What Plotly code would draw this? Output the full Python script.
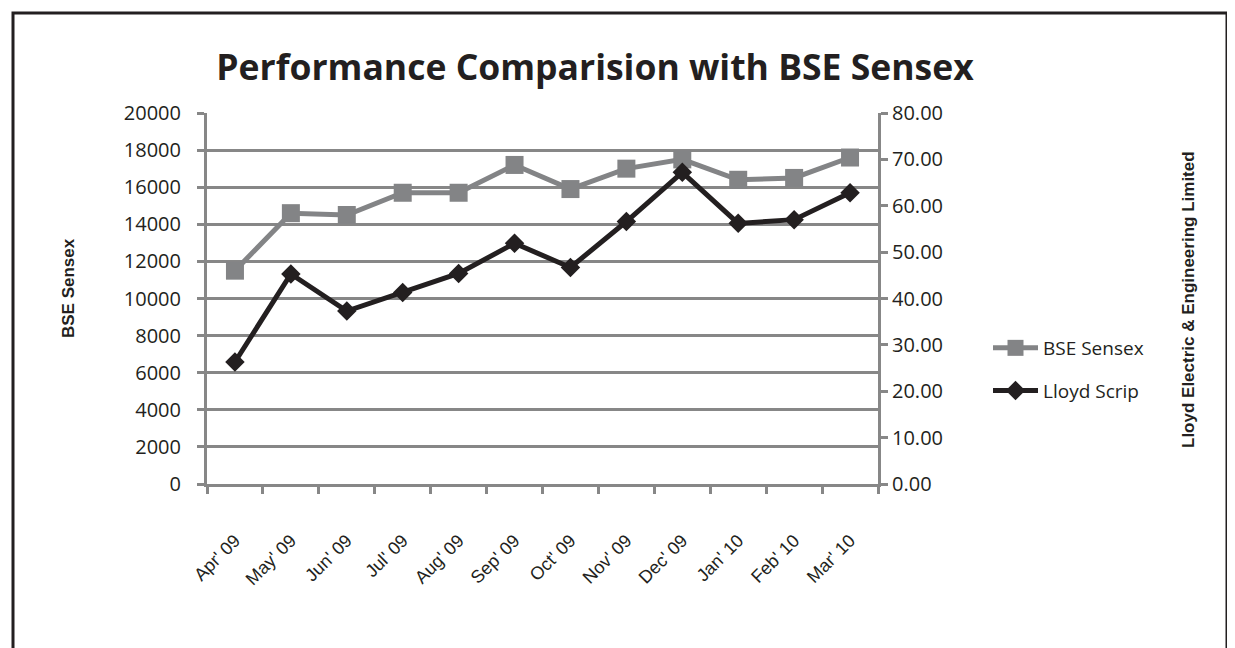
import plotly.graph_objects as go

months = ["Apr' 09", "May' 09", "Jun' 09", "Jul' 09", "Aug' 09", "Sep' 09",
          "Oct' 09", "Nov' 09", "Dec' 09", "Jan' 10", "Feb' 10", "Mar' 10"]
sensex = [11500, 14600, 14500, 15700, 15700, 17200, 15900, 17000, 17500, 16400, 16500, 17600]
lloyd = [26.3, 45.3, 37.3, 41.3, 45.4, 51.9, 46.7, 56.6, 67.2, 56.2, 57.0, 62.8]

# page body has an 8px margin; lay out in screen pixels and shift
O = 8
W, H = 1235 - O, 648 - O
SL, SR, ST, SB = 207, 878, 113, 484   # plot area in screen pixels
L, R, T, B = SL - O, SR - O, ST - O, SB - O
GRID = "#878787"
DARK = "#231f20"

fig = go.Figure()
fig.add_trace(go.Scatter(
    x=months, y=sensex, name="BSE Sensex", mode="lines+markers",
    line=dict(color="#838486", width=5),
    marker=dict(symbol="square", size=18, color="#838486"),
    legendgroup="a", yaxis="y"))
fig.add_trace(go.Scatter(
    x=months, y=lloyd, name="Lloyd Scrip", mode="lines+markers",
    line=dict(color=DARK, width=5),
    marker=dict(symbol="diamond", size=15, color=DARK),
    legendgroup="b", yaxis="y2"))

def px(x):
    return (x - SL) / (SR - SL)

def py(y):
    return (SB - y) / (SB - ST)

fig.update_layout(
    width=W, height=H,
    margin=dict(l=L, r=W - R, t=T, b=H - B, pad=0, autoexpand=False),
    paper_bgcolor="white", plot_bgcolor="white",
    showlegend=True,
    legend=dict(x=px(988), y=py(329), xanchor="left", yanchor="top",
                font=dict(family="Open Sans", size=19, color=DARK),
                tracegroupgap=15, bgcolor="rgba(0,0,0,0)", itemwidth=45),
    title=dict(text="<b>Performance Comparision with BSE Sensex</b>",
               x=(595 - O) / W, xanchor="center", y=1 - (68 - O) / H, yanchor="middle",
               xref="container", yref="container",
               font=dict(family="Open Sans", size=35.5, color=DARK)),
    xaxis=dict(type="category", range=[-0.5, 11.5], tickson="boundaries",
               ticks="outside", ticklen=7, tickwidth=3, tickcolor=GRID,
               showline=True, linecolor=GRID, linewidth=3,
               showgrid=False, tickangle=-45, ticklabelstandoff=36,
               tickfont=dict(family="Arial", size=18, color=DARK)),
    yaxis=dict(range=[0, 20000], dtick=2000, tickformat="d",
               ticks="outside", ticklen=7, tickwidth=3, tickcolor=GRID,
               showline=True, linecolor=GRID, linewidth=3,
               showgrid=True, gridcolor=GRID, gridwidth=3, zeroline=False,
               ticklabelstandoff=12,
               tickfont=dict(family="Open Sans", size=20, color=DARK)),
    yaxis2=dict(range=[0, 80], dtick=10, tickformat=".2f", overlaying="y",
                side="right", ticks="outside", ticklen=7, tickwidth=3,
                tickcolor=GRID, showline=True, linecolor=GRID, linewidth=3,
                showgrid=False, zeroline=False, ticklabelstandoff=0,
                tickfont=dict(family="Open Sans", size=20, color=DARK)),
    annotations=[
        dict(text="<b>BSE Sensex</b>", x=px(68), y=py(288), xref="paper", yref="paper",
             textangle=-90, showarrow=False, xanchor="center", yanchor="middle",
             font=dict(family="Arial", size=17, color=DARK)),
        dict(text="<b>Lloyd Electric &amp; Engineering Limited</b>", x=px(1188), y=py(300),
             xref="paper", yref="paper", textangle=-90, showarrow=False,
             xanchor="center", yanchor="middle",
             font=dict(family="Arial", size=17, color=DARK)),
    ],
    shapes=[dict(type="rect", xref="paper", yref="paper",
                 x0=px(13), x1=px(1227), y0=py(720), y1=py(13),
                 line=dict(color=DARK, width=3), layer="below")],
)

fig.write_html("out.html")
